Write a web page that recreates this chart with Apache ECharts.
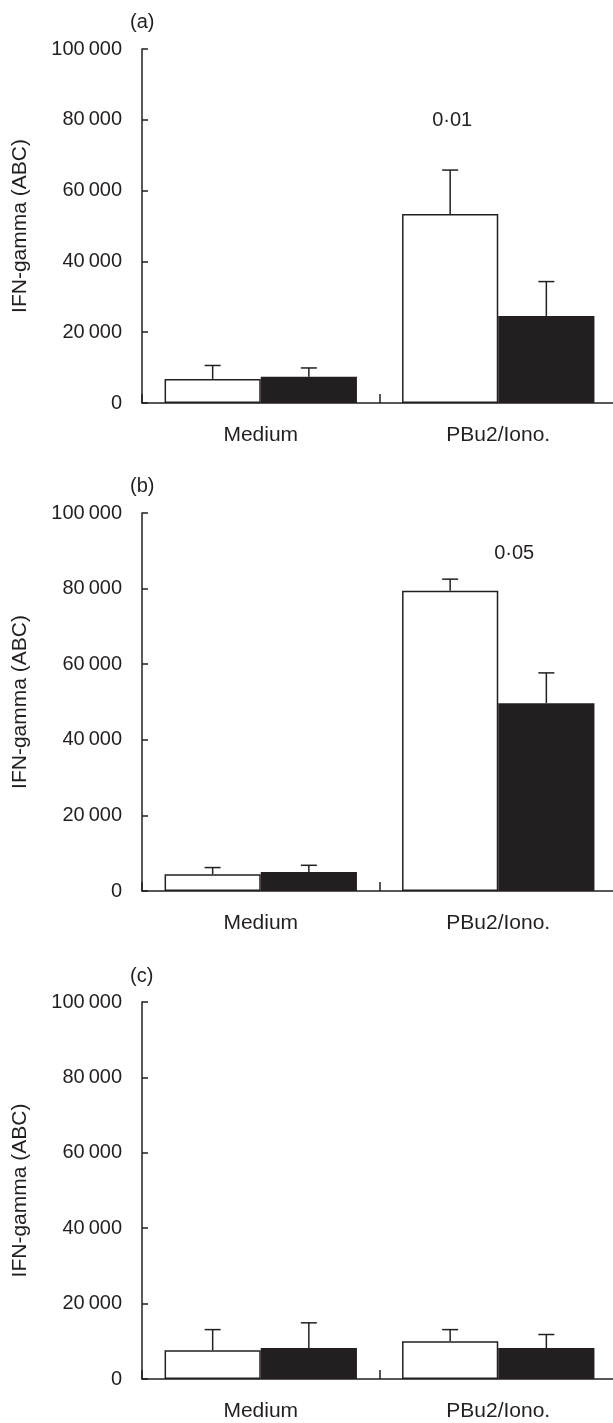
<!DOCTYPE html>
<html>
<head>
<meta charset="utf-8">
<script src="https://cdn.jsdelivr.net/npm/echarts@6/dist/echarts.min.js"></script>
<style>
  html, body { margin: 0; padding: 0; background: #fff; overflow: hidden; }
  /* a bit wider than the window so the axes run off the right edge like the figure */
  #main { width: 640px; height: 1423px; }
</style>
</head>
<body>
<div id="main"></div>
<script>
// categories and tick values
const categories = ['Medium', 'PBu2/Iono.']
const yTicks = [0, 20000, 40000, 60000, 80000, 100000]

// panel (a)
const aWhite = [6800, 53400]
const aWhiteSem = [3800, 12400]
const aBlack = [7400, 24600]
const aBlackSem = [2500, 9700]
// panel (b)
const bWhite = [4400, 79400]
const bWhiteSem = [1800, 3100]
const bBlack = [5000, 49700]
const bBlackSem = [1800, 8000]
// panel (c)
const cWhite = [7600, 10000]
const cWhiteSem = [5500, 3100]
const cBlack = [8200, 8200]
const cBlackSem = [6700, 3600]

const panelNames = ['(a)', '(b)', '(c)']
const pLabels = [{ text: '0·01', value: 79800, dx: 2 }, { text: '0·05', value: 89400, dx: 64 }, null]

const ink = '#231f20'
const font = 'Liberation Sans, Arial, sans-serif'
const barFrac = 0.405

// grid positions for the three panels
const grids = [
  { left: 142, top: 49, width: 475, height: 354 },
  { left: 142, top: 513, width: 475, height: 378 },
  { left: 142, top: 1002, width: 475, height: 377 }
]
const titleTops = [12, 476, 966]

const panels = [
  [aWhite, aWhiteSem, aBlack, aBlackSem],
  [bWhite, bWhiteSem, bBlack, bBlackSem],
  [cWhite, cWhiteSem, cBlack, cBlackSem]
]

function fmt(v) {
  if (v >= 1000) {
    const s = String(v)
    return s.slice(0, s.length - 3) + '\u2009' + s.slice(s.length - 3)
  }
  return String(v)
}

function errRender(offset) {
  return function (params, api) {
    const ci = api.value(0)
    const v = api.value(1)
    const e = api.value(2)
    const base = api.coord([ci, v])
    const top = api.coord([ci, v + e])
    const w = api.size([1, 0])[0]
    const x = base[0] + offset * w
    const st = { stroke: ink, lineWidth: 1.5 }
    return {
      type: 'group',
      children: [
        { type: 'line', shape: { x1: x, y1: base[1], x2: x, y2: top[1] }, style: st },
        { type: 'line', shape: { x1: x - 8, y1: top[1], x2: x + 8, y2: top[1] }, style: st }
      ]
    }
  }
}

const xAxis = [], yAxis = [], series = [], title = []
panels.forEach((p, i) => {
  title.push({
    text: panelNames[i], left: 130, top: titleTops[i], padding: 0,
    textStyle: { fontFamily: font, fontSize: 20, fontWeight: 'normal', color: ink }
  })
  xAxis.push({
    type: 'category', gridIndex: i, data: categories,
    axisLine: { show: true, lineStyle: { color: ink, width: 1.5 } },
    axisTick: { show: true, alignWithLabel: false, inside: true, length: 9, lineStyle: { color: ink, width: 1.5 } },
    axisLabel: { margin: 22, color: ink, fontSize: 21, fontFamily: font }
  })
  yAxis.push({
    type: 'value', gridIndex: i, min: 0, max: 100000, interval: 20000,
    name: 'IFN-gamma (ABC)', nameLocation: 'middle', nameGap: 111,
    nameTextStyle: { color: ink, fontSize: 21, fontFamily: font },
    axisLine: { show: true, lineStyle: { color: ink, width: 1.5 } },
    axisTick: { show: true, inside: true, length: 6, lineStyle: { color: ink, width: 1.5 } },
    splitLine: { show: false },
    axisLabel: { margin: 20, color: ink, fontSize: 20, fontFamily: font, formatter: fmt }
  })
  const white = {
    type: 'bar', xAxisIndex: i, yAxisIndex: i, data: p[0],
    barWidth: (barFrac * 100) + '%', barGap: '0%',
    itemStyle: { color: '#fff', borderColor: ink, borderWidth: 1.5 },
    z: 2
  }
  if (pLabels[i]) {
    white.markPoint = {
      symbol: 'circle', symbolSize: 0,
      data: [{ coord: [1, pLabels[i].value] }],
      label: {
        show: true, position: 'inside', formatter: pLabels[i].text,
        offset: [pLabels[i].dx, 0], color: ink, fontSize: 20, fontFamily: font
      }
    }
  }
  series.push(white)
  series.push({
    type: 'bar', xAxisIndex: i, yAxisIndex: i, data: p[2],
    barWidth: (barFrac * 100) + '%', barGap: '0%',
    itemStyle: { color: ink }, z: 2
  })
  series.push({
    type: 'custom', xAxisIndex: i, yAxisIndex: i, z: 3,
    renderItem: errRender(-barFrac / 2),
    data: p[0].map((v, k) => [k, v, p[1][k]])
  })
  series.push({
    type: 'custom', xAxisIndex: i, yAxisIndex: i, z: 3,
    renderItem: errRender(barFrac / 2),
    data: p[2].map((v, k) => [k, v, p[3][k]])
  })
})

var myChart = echarts.init(document.getElementById('main'))
myChart.setOption({
  animation: false,
  title: title,
  grid: grids,
  xAxis: xAxis,
  yAxis: yAxis,
  series: series
})
</script>
</body>
</html>
